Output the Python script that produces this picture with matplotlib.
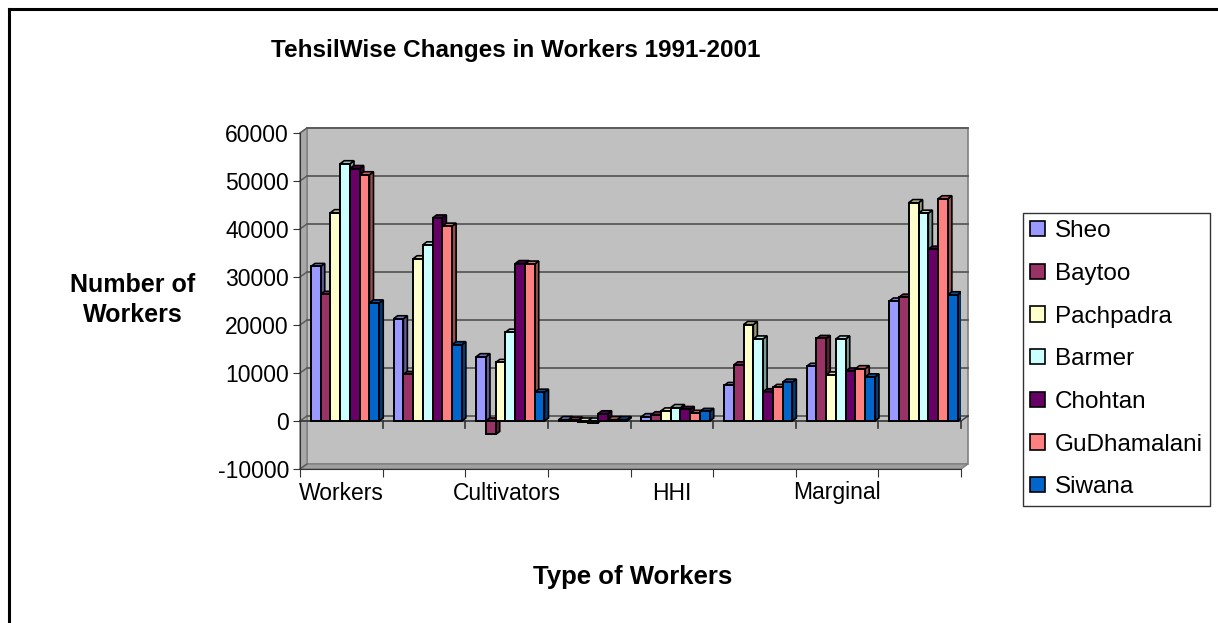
import matplotlib
matplotlib.use("Agg")
import matplotlib.pyplot as plt
from matplotlib.patches import Polygon, Rectangle
from matplotlib.lines import Line2D
import numpy as np

plt.rcParams['font.family'] = ['Liberation Sans', 'DejaVu Sans']

# Data
categories = ["Workers", "", "Cultivators", "", "HHI", "", "Marginal", ""]
tehsils = ["Sheo", "Baytoo", "Pachpadra", "Barmer", "Chohtan", "GuDhamalani", "Siwana"]
sheo = [32200, 21300, 13400, 300, 900, 7400, 11400, 25000]
baytoo = [26400, 9700, -2800, 200, 1300, 11700, 17200, 25800]
pachpadra = [43400, 33800, 12200, -300, 2100, 20100, 9600, 45500]
barmer = [53600, 36700, 18500, -400, 2800, 17100, 17100, 43300]
chohtan = [52600, 42300, 32800, 1500, 2400, 6100, 10400, 35800]
gudhamalani = [51300, 40600, 32700, 300, 1600, 7000, 10900, 46300]
siwana = [24600, 15900, 6000, 300, 2000, 8100, 9200, 26300]
series = [sheo, baytoo, pachpadra, barmer, chohtan, gudhamalani, siwana]
colors = ["#9999FF", "#993366", "#FFFFCC", "#CCFFFF", "#660066", "#FF8080", "#0066CC"]

W, H = 1218, 623
fig = plt.figure(figsize=(W / 100, H / 100), dpi=100)

# front plane of the plot in pixels
x0p, x1p = 300, 961
ytop, ybot = 133, 469
ax = fig.add_axes([x0p / W, (H - ybot) / H, (x1p - x0p) / W, (ybot - ytop) / H])
ax.set_xlim(0, 8)
ax.set_ylim(-10000, 60000)
ax.patch.set_visible(False)

# pixel -> data helpers
px_x = 8 / (x1p - x0p)
px_y = 70000 / (ybot - ytop)
wdx, wdy = 7 * px_x, 5 * px_y     # wall depth
bdx, bdy = 4 * px_x, 3 * px_y     # bar depth

# back wall, side wall, floor
wall = Rectangle((wdx, -10000 + wdy), 8, 70000, facecolor="#C0C0C0",
                 edgecolor="#808080", lw=1.2, zorder=0, clip_on=False)
ax.add_patch(wall)
ax.add_patch(Polygon([(0, -10000), (0, 60000), (wdx, 60000 + wdy), (wdx, -10000 + wdy)],
                     closed=True, facecolor="#A8A8A8", edgecolor="#808080", lw=1, zorder=0.5, clip_on=False))
ax.add_patch(Polygon([(0, -10000), (8, -10000), (8 + wdx, -10000 + wdy), (wdx, -10000 + wdy)],
                     closed=True, facecolor="#A0A0A0", edgecolor="#808080", lw=1, zorder=0.5, clip_on=False))

yt = np.arange(-10000, 60001, 10000)
for v in yt:
    if -10000 < v:
        ax.plot([wdx, 8 + wdx], [v + wdy, v + wdy], color="#595959", lw=1.3, zorder=1, clip_on=False)
    ax.plot([0, wdx], [v, v + wdy], color="#595959", lw=1, zorder=1, clip_on=False)

# zero line with category ticks
ax.plot([0, 8], [0, 0], color="#333333", lw=1.2, zorder=2, clip_on=False)
ax.plot([8, 8 + wdx], [0, wdy], color="#333333", lw=1, zorder=2, clip_on=False)
for k in range(1, 9):
    ax.plot([k, k], [0, -7 * px_y], color="#333333", lw=1.2, zorder=2, clip_on=False)

# bars with a simple 3D look
bw = 0.118
start = 0.133
for j, (vals, c) in enumerate(zip(series, colors)):
    rgb = np.array(matplotlib.colors.to_rgb(c))
    side = tuple(rgb * 0.6)
    topc = tuple(np.clip(rgb * 0.85, 0, 1))
    for i, v in enumerate(vals):
        xl = i + start + j * bw
        xr = xl + bw
        ax.bar(xl, v, width=bw, align="edge", color=c, edgecolor="black", lw=1.4, zorder=3 + j * 0.01)
        ax.add_patch(Polygon([(xr, 0), (xr, v), (xr + bdx, v + bdy), (xr + bdx, bdy)], closed=True,
                             facecolor=side, edgecolor="black", lw=1.2, zorder=2.9 + j * 0.01))
        ht = max(v, 0)
        ax.add_patch(Polygon([(xl, ht), (xr, ht), (xr + bdx, ht + bdy), (xl + bdx, ht + bdy)], closed=True,
                             facecolor=topc, edgecolor="black", lw=1.2, zorder=2.9 + j * 0.01))

# axes styling
for s in ["top", "right"]:
    ax.spines[s].set_visible(False)
ax.spines["left"].set_color("#333333")
ax.spines["bottom"].set_color("#333333")
ax.set_yticks(yt)
ax.set_yticklabels([str(v) for v in yt])
ax.set_xticks(range(9))
ax.set_xticklabels([])
ax.set_xticks(np.arange(8) + 0.5, minor=True)
ax.set_xticklabels(categories, minor=True)
ax.tick_params(axis="y", length=5, labelsize=16.5, pad=3, color="#333333")
ax.tick_params(axis="x", which="major", length=6, color="#333333")
ax.tick_params(axis="x", which="minor", length=0, labelsize=16.5, pad=9)

# texts
fig.text(516 / W, 1 - 50 / H, "TehsilWise Changes in Workers 1991-2001", ha="center", va="center",
         fontsize=17.5, fontweight="bold")
fig.text(133 / W, 1 - 300 / H, "Number of\nWorkers", ha="center", va="center",
         fontsize=18, fontweight="bold", linespacing=1.3)
fig.text(633 / W, 1 - 577 / H, "Type of Workers", ha="center", va="center",
         fontsize=18.5, fontweight="bold")

# legend
handles = [Rectangle((0, 0), 1, 1, facecolor=c, edgecolor="black", lw=1.2) for c in colors]
leg = fig.legend(handles, tehsils, loc="upper left", bbox_to_anchor=(1023 / W, 1 - 213 / H),
                 frameon=True, fancybox=False, fontsize=17.5, handlelength=0.6, handleheight=0.6,
                 handletextpad=0.4, labelspacing=0.85, borderpad=0.3, borderaxespad=0)
leg.get_frame().set_edgecolor("black")
leg.get_frame().set_linewidth(1)

# chart area border (left and top edges visible)
fig.add_artist(Line2D([9 / W, 9 / W], [0, 1 - 9 / H], color="black", lw=2.2))
fig.add_artist(Line2D([9 / W, 1], [1 - 9 / H, 1 - 9 / H], color="black", lw=2.2))

fig.savefig("out.png", dpi=100)
